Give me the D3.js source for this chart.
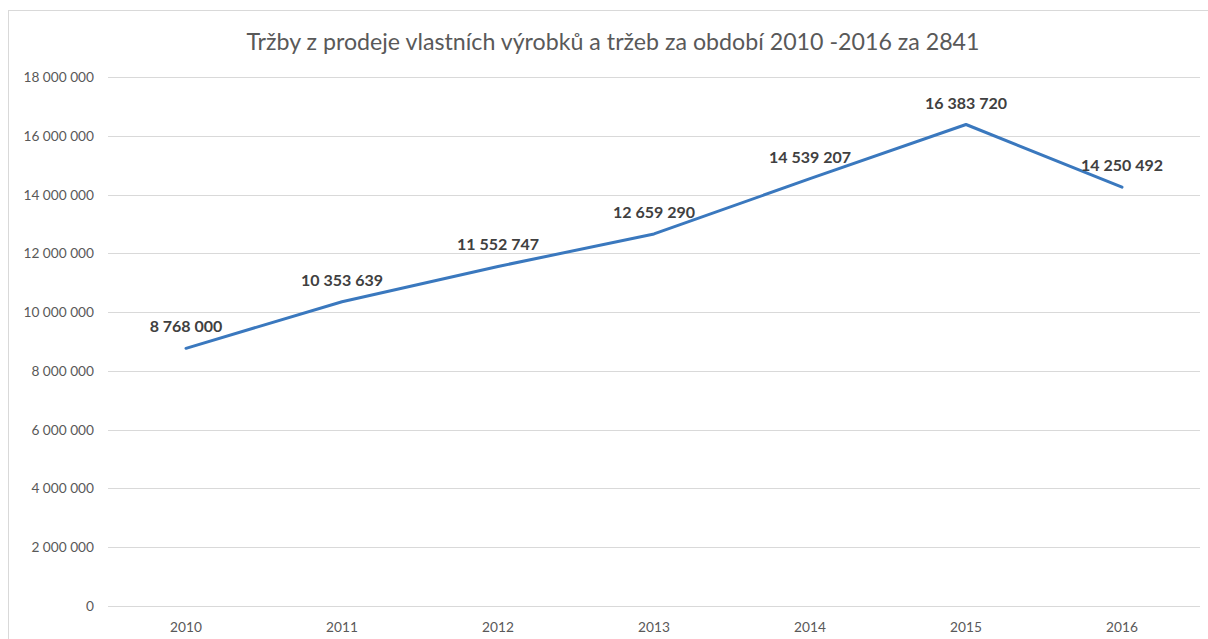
<!DOCTYPE html>
<html>
<meta charset="utf-8">
<head>
    <script src="https://d3js.org/d3.v7.min.js"></script>
</head>
<style>
  body { margin: 0; background: #fff; }
  svg text { font-family: Lato, "Open Sans", sans-serif; }
  .grid line { stroke: #d9d9d9; stroke-width: 1; }
  .tick-label { fill: #595959; font-size: 13.7px; }
  .data-label { fill: #404040; font-size: 16px; font-weight: bold; text-anchor: middle; }
  .title { fill: #595959; font-size: 23.2px; text-anchor: middle; }
</style>
<body>
<script>
    var years = ["2010", "2011", "2012", "2013", "2014", "2015", "2016"];
    var revenue = [8768000, 10353639, 11552747, 12659290, 14539207, 16383720, 14250492];
    var yTicks = [0, 2000000, 4000000, 6000000, 8000000, 10000000, 12000000, 14000000, 16000000, 18000000];
    var title = "Tržby z prodeje vlastních výrobků a tržeb za období 2010 -2016 za 2841";

    var width = 1208, height = 639;

    var loc = d3.formatLocale({decimal: ",", thousands: " ", grouping: [3], currency: ["", ""]});
    var fmt = loc.format(",d");

    var svg = d3.select("body").append("svg")
        .attr("width", width)
        .attr("height", height);

    // chart border
    svg.append("rect")
        .attr("x", 8.5).attr("y", 10.5)
        .attr("width", 1300).attr("height", 700)
        .attr("fill", "#fff")
        .attr("stroke", "#d9d9d9");

    var x = d3.scaleBand().domain(years).range([108, 1200]);
    var y = d3.scaleLinear().domain([0, 18000000]).range([606, 77]);

    svg.append("text")
        .attr("class", "title")
        .attr("x", 613).attr("y", 50)
        .text(title);

    var grid = svg.append("g").attr("class", "grid");
    grid.selectAll("line")
        .data(yTicks)
        .enter().append("line")
        .attr("x1", 108).attr("x2", 1200)
        .attr("y1", function(d) { return Math.round(y(d)) + 0.5; })
        .attr("y2", function(d) { return Math.round(y(d)) + 0.5; });

    svg.selectAll("text.ylab")
        .data(yTicks)
        .enter().append("text")
        .attr("class", "tick-label ylab")
        .attr("x", 94)
        .attr("y", function(d) { return y(d) + 5; })
        .attr("text-anchor", "end")
        .text(function(d) { return fmt(d); });

    svg.selectAll("text.xlab")
        .data(years)
        .enter().append("text")
        .attr("class", "tick-label xlab")
        .attr("x", function(d) { return x(d) + x.bandwidth() / 2; })
        .attr("y", 632)
        .attr("text-anchor", "middle")
        .text(function(d) { return d; });

    var line = d3.line()
        .x(function(d, i) { return x(years[i]) + x.bandwidth() / 2; })
        .y(function(d) { return y(d); });

    svg.append("path")
        .datum(revenue)
        .attr("d", line)
        .attr("fill", "none")
        .attr("stroke", "#3a78be")
        .attr("stroke-width", 3)
        .attr("stroke-linejoin", "round")
        .attr("stroke-linecap", "round");

    svg.selectAll("text.data-label")
        .data(revenue)
        .enter().append("text")
        .attr("class", "data-label")
        .attr("x", function(d, i) { return x(years[i]) + x.bandwidth() / 2; })
        .attr("y", function(d) { return y(d) - 16; })
        .text(function(d) { return fmt(d); });
</script>
</body>
</html>
